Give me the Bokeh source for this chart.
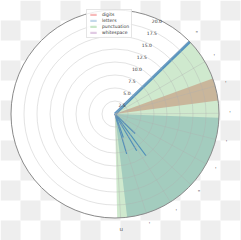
import numpy as np
from bokeh.plotting import figure
from bokeh.models import Range1d, Legend, LegendItem
from bokeh.core.properties import value
from bokeh.embed import file_html
from bokeh.resources import INLINE

# ---------------- data ----------------
categories = ["digits", "letters", "punctuation", "whitespace"]
cat_colors = ["#e41a1c", "#377eb8", "#4daf4a", "#984ea3"]

rmax = 20.0
r_ticks = [2.5, 5.0, 7.5, 10.0, 12.5, 15.0, 17.5, 20.0]
r_labels = ["2.5", "5.0", "7.5", "10.0", "12.5", "15.0", "17.5", "20.0"]

# angular ticks, degrees clockwise from north
theta_ticks = [45.3, 59.8, 74.4, 89.6, 104.2, 118.7, 133.0, 147.8, 162.5, 176.9]
theta_labels = ['"', "'", "'", "'", "'", "'", '"', "'", "'", "u"]

# bars: start / end angle (deg clockwise from north) and radius
digits_start = [70.0]
digits_end = [82.6]
digits_r = [20.0]

letters_start = [92.0]
letters_end = [173.3]
letters_r = [20.0]

letters_thin_theta = [46.0, 134.1, 143.4, 149.4, 160.5, 163.7]
letters_thin_r = [20.0, 5.4, 10.0, 8.2, 4.8, 8.0]

punct_start = [46.0]
punct_end = [178.8]
punct_r = [20.0]

white_start = []
white_end = []
white_r = []

# ---------------- layout ----------------
W, H = 241, 240
cx, cy = 114.5, 113.5      # pixel centre of the polar axes
s = 104.0 / rmax           # pixels per radial unit

p = figure(width=W, height=H, output_backend="svg", toolbar_location=None,
           x_range=Range1d(-cx / s, (W - cx) / s),
           y_range=Range1d(-(H - cy) / s, cy / s),
           x_axis_type=None, y_axis_type=None, min_border=0)
p.min_border_left = p.min_border_right = p.min_border_top = p.min_border_bottom = 0
p.outline_line_color = None
p.grid.visible = False
p.background_fill_color = "white"
p.border_fill_color = "white"

# transparent-background checkerboard
sq = 20
ql, qr, qt, qb = [], [], [], []
for i in range(int(np.ceil(W / sq))):
    for j in range(int(np.ceil(H / sq))):
        if (i + j) % 2 == 1:
            ql.append((i * sq - cx) / s)
            qr.append(((i + 1) * sq - cx) / s)
            qt.append((cy - j * sq) / s)
            qb.append((cy - (j + 1) * sq) / s)
p.quad(left=ql, right=qr, top=qt, bottom=qb, fill_color="#eeeeee", line_color=None)

# axes face
p.circle(x=[0], y=[0], radius=rmax, fill_color="white", line_color=None)


def to_bokeh(start, end):
    return [90.0 - e for e in end], [90.0 - b for b in start]


def wedges(start, end, rr, color, alpha):
    sa, ea = to_bokeh(start, end)
    return p.wedge(x=0, y=0, radius=[min(v, rmax) for v in rr], start_angle=sa, end_angle=ea,
                   start_angle_units="deg", end_angle_units="deg", direction="anticlock",
                   fill_color=color, fill_alpha=alpha, line_color=None)


wedges(digits_start, digits_end, digits_r, cat_colors[0], 0.3)
wedges(letters_start, letters_end, letters_r, cat_colors[1], 0.3)
wedges(punct_start, punct_end, punct_r, cat_colors[2], 0.27)
wedges(white_start, white_end, white_r, cat_colors[3], 0.25)

# narrow letter bars
p.ray(x=0, y=0, length=[min(v, rmax) for v in letters_thin_r],
      angle=[90.0 - t for t in letters_thin_theta], angle_units="deg",
      line_color=cat_colors[1], line_alpha=0.8, line_width=[3, 1.2, 1.2, 1.2, 1.2, 1.2])

# grid
p.circle(x=[0] * (len(r_ticks) - 1), y=[0] * (len(r_ticks) - 1), radius=r_ticks[:-1],
         fill_color=None, line_color="#b0b0b0", line_alpha=0.5, line_width=0.7)
p.ray(x=0, y=0, length=rmax, angle=[90.0 - t for t in theta_ticks], angle_units="deg",
      line_color="#b0b0b0", line_alpha=0.5, line_width=0.7)

# spine
p.circle(x=[0], y=[0], radius=rmax, fill_color=None, line_color="#8a8a8a", line_width=1)

# radial tick labels along 22.5 deg
ra = np.deg2rad(22.5)
p.text(x=[r * np.sin(ra) for r in r_ticks], y=[r * np.cos(ra) for r in r_ticks], text=r_labels,
       text_font=value("DejaVu Sans"), text_font_size="4.5px", text_color="#333333",
       text_align="center", text_baseline="middle", x_offset=2, y_offset=3.5)

# angular tick labels
lr = rmax * 1.105
th = np.deg2rad(theta_ticks)
p.text(x=list(lr * np.sin(th)), y=list(lr * np.cos(th)), text=theta_labels,
       text_font=value("DejaVu Sans"), text_font_size="5.5px", text_color="#555555",
       text_align="center", text_baseline="middle")

# legend (swatch renderers placed outside the visible range)
items = []
far = 1000.0
for name, col in zip(categories, cat_colors):
    rr = p.quad(left=[far], right=[far + 1], top=[far + 1], bottom=[far],
                fill_color=col, fill_alpha=0.3, line_color=None)
    items.append(LegendItem(label=name, renderers=[rr]))
leg = Legend(items=items, location=(86, 202), label_text_font_size="4.5px",
             label_text_font="DejaVu Sans", label_text_color="#333333",
             glyph_width=8, glyph_height=3, label_height=5, label_standoff=5,
             spacing=1, padding=2, margin=0,
             border_line_color="#cccccc", border_line_width=0.6,
             background_fill_color="white", background_fill_alpha=0.85)
p.add_layout(leg, "center")

open("out.html", "w").write(file_html(p, INLINE))
